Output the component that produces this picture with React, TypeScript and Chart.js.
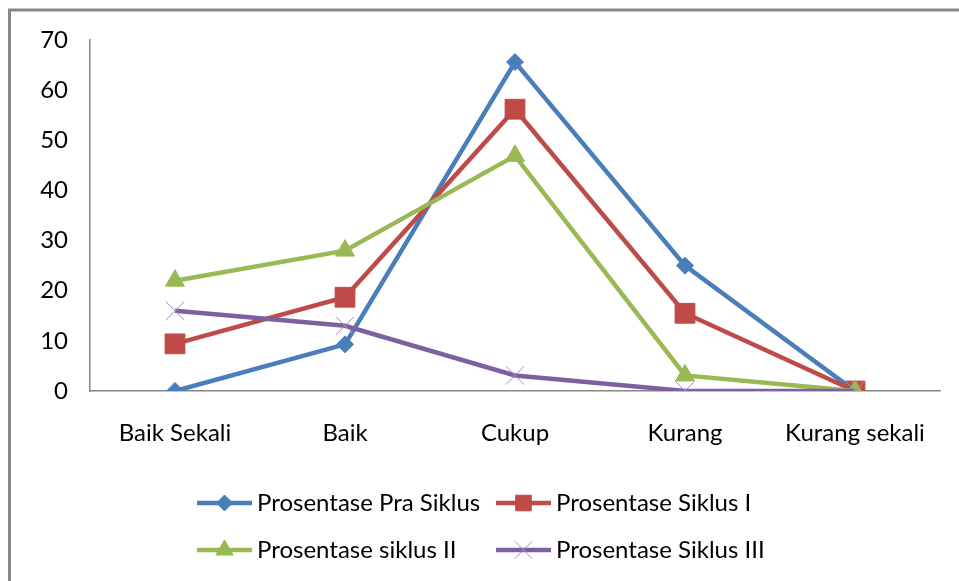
import React, { useEffect, useRef } from "react";
import { Chart, registerables } from "chart.js";

Chart.register(...registerables);

const categories = ["Baik Sekali", "Baik", "Cukup", "Kurang", "Kurang sekali"];
const praSiklus = [0, 9.3, 65.6, 25, 0];
const siklusI = [9.4, 18.7, 56.2, 15.5, 0];
const siklusII = [22, 28, 46.9, 3.1, 0];
const siklusIII = [16, 13, 3.1, 0, 0];
const seriesNames = [
  "Prosentase Pra Siklus",
  "Prosentase Siklus I",
  "Prosentase siklus II",
  "Prosentase Siklus III",
];
const yTicks = [0, 10, 20, 30, 40, 50, 60, 70];

const FONT = "Lato";
const FONT_SIZE = 24;

const styles = [
  { color: "#4A7EBB", point: "rectRot", radius: 8.5, legendRadius: 8, pbw: 1, pcolor: "#4A7EBB" },
  { color: "#BE4B48", point: "rect", radius: 14, legendRadius: 11, pbw: 1, pcolor: "#BE4B48" },
  { color: "#98B954", point: "triangle", radius: 11, legendRadius: 10, pbw: 1, pcolor: "#98B954" },
  { color: "#7D60A0", point: "crossRot", radius: 13, legendRadius: 12, pbw: 1, pcolor: "#A08BC4" },
];

const seriesData = [praSiklus, siklusI, siklusII, siklusIII];

function drawPointHelper(ctx: CanvasRenderingContext2D, style: string, r: number, x: number, y: number) {
  ctx.beginPath();
  if (style === "rectRot") {
    ctx.moveTo(x, y - r);
    ctx.lineTo(x + r, y);
    ctx.lineTo(x, y + r);
    ctx.lineTo(x - r, y);
    ctx.closePath();
    ctx.fill();
    ctx.stroke();
  } else if (style === "rect") {
    const h = r * Math.SQRT1_2;
    ctx.rect(x - h, y - h, 2 * h, 2 * h);
    ctx.fill();
    ctx.stroke();
  } else if (style === "triangle") {
    ctx.moveTo(x, y - r);
    ctx.lineTo(x + r * Math.sin(Math.PI / 3), y + r / 2);
    ctx.lineTo(x - r * Math.sin(Math.PI / 3), y + r / 2);
    ctx.closePath();
    ctx.fill();
    ctx.stroke();
  } else if (style === "crossRot") {
    const d = r * Math.SQRT1_2;
    ctx.moveTo(x - d, y - d);
    ctx.lineTo(x + d, y + d);
    ctx.moveTo(x + d, y - d);
    ctx.lineTo(x - d, y + d);
    ctx.stroke();
  }
}

const framePlugin = {
  id: "frame",
  beforeDraw(chart: any) {
    const ctx = chart.ctx;
    ctx.save();
    ctx.fillStyle = "#ffffff";
    ctx.fillRect(0, 0, chart.width, chart.height);
    ctx.strokeStyle = "#878787";
    ctx.lineWidth = 3;
    ctx.beginPath();
    ctx.moveTo(9.5, chart.height);
    ctx.lineTo(9.5, 10);
    ctx.lineTo(chart.width, 10);
    ctx.stroke();
    ctx.restore();
  },
};

const legendPlugin = {
  id: "customLegend",
  afterDraw(chart: any) {
    const ctx = chart.ctx;
    const positions = [
      { x: 197, y: 503 },
      { x: 496, y: 503 },
      { x: 197, y: 550 },
      { x: 496, y: 550 },
    ];
    ctx.save();
    seriesNames.forEach((name, i) => {
      const p = positions[i];
      const s = styles[i];
      ctx.strokeStyle = s.color;
      ctx.lineWidth = 4.5;
      ctx.beginPath();
      ctx.moveTo(p.x, p.y);
      ctx.lineTo(p.x + 55, p.y);
      ctx.stroke();
      ctx.fillStyle = s.color;
      ctx.strokeStyle = s.pcolor;
      ctx.lineWidth = s.pbw;
      drawPointHelper(ctx, s.point, s.legendRadius, p.x + 27.5, p.y);
      ctx.fillStyle = "#000";
      ctx.font = `${FONT_SIZE}px ${FONT}`;
      ctx.textBaseline = "middle";
      ctx.textAlign = "left";
      ctx.fillText(name, p.x + 60, p.y);
    });
    ctx.restore();
  },
};

export default function App() {
  const ref = useRef<HTMLCanvasElement | null>(null);

  useEffect(() => {
    if (!ref.current) return;
    const chart = new Chart(ref.current, {
      type: "line",
      data: {
        labels: categories,
        datasets: seriesData.map((d, i) => ({
          label: seriesNames[i],
          data: d,
          borderColor: styles[i].color,
          backgroundColor: styles[i].color,
          borderWidth: 4.5,
          pointStyle: styles[i].point as any,
          pointRadius: styles[i].radius,
          pointBorderWidth: styles[i].pbw,
          pointBorderColor: styles[i].pcolor,
          pointBackgroundColor: styles[i].color,
          tension: 0,
          fill: false,
          order: 3 - i,
        })),
      },
      options: {
        responsive: false,
        animation: false,
        layout: { padding: { top: 40, right: 19, left: 0, bottom: 0 } },
        plugins: {
          legend: { display: false },
          tooltip: { enabled: false },
        },
        scales: {
          x: {
            offset: true,
            grid: { display: false, drawTicks: false },
            border: { display: true, color: "#868686", width: 1.5 },
            ticks: {
              color: "#000",
              font: { family: FONT, size: FONT_SIZE },
              padding: 28,
              maxRotation: 0,
              autoSkip: false,
            },
            afterFit(scale: any) {
              scale.height = 190;
            },
          },
          y: {
            min: 0,
            max: 70,
            afterBuildTicks(scale: any) {
              scale.ticks = yTicks.map((v) => ({ value: v }));
            },
            grid: { display: false, drawTicks: false },
            border: { display: true, color: "#868686", width: 1.5 },
            ticks: {
              color: "#000",
              font: { family: FONT, size: FONT_SIZE },
              padding: 22,
            },
            afterFit(scale: any) {
              scale.width = 90;
            },
          },
        },
      },
      plugins: [framePlugin, legendPlugin],
    });
    return () => chart.destroy();
  }, []);

  return (
    <div style={{ position: "fixed", left: 0, top: 0, width: 959, height: 581, background: "#fff" }}>
      <canvas ref={ref} width={959} height={581} style={{ display: "block" }} />
    </div>
  );
}
